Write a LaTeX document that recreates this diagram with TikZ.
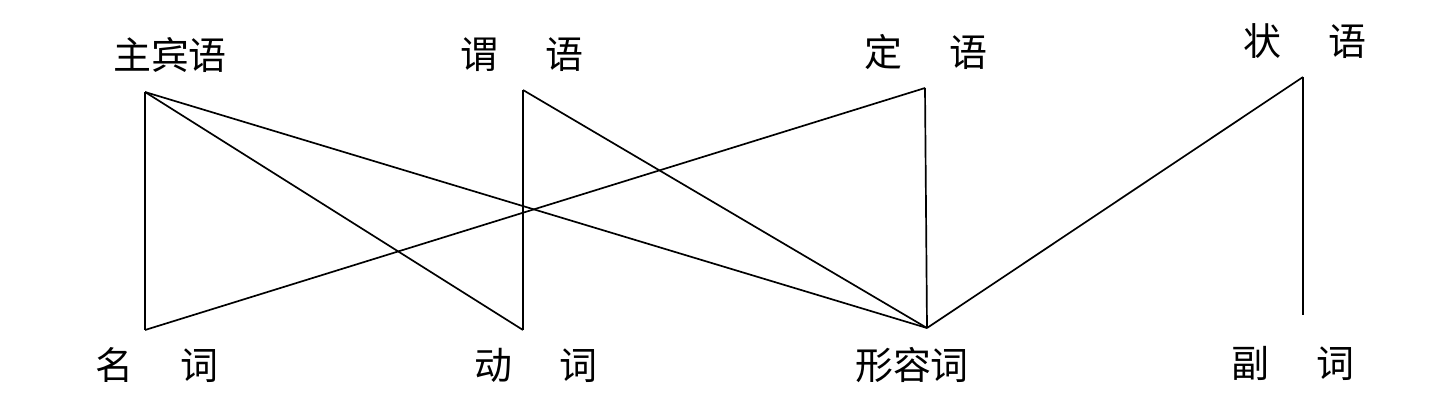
\documentclass[tikz,border=0pt]{standalone}
\usepackage{fontspec}
\newfontfamily\cjk{Noto Sans CJK SC}
\usepackage{tikz}
\usetikzlibrary{positioning, calc}

\newcommand{\wgap}{\hspace{1.25em}}

\begin{document}
\begin{tikzpicture}[
    lbl/.style={font=\cjk\fontsize{27pt}{32pt}\selectfont, inner sep=0pt},
    link/.style={line width=1.2pt, line join=miter}
]
\useasboundingbox (0,0) rectangle (36,10.175);

% sentence parts (top)
\node[lbl] (zhubin) at (4.25,8.8) {主宾语};
\node[lbl] (weiyu) at (13.05,8.8) {谓\wgap 语};
\node[lbl] (dingyu) at (23.15,8.875) {定\wgap 语};
\node[lbl] (zhuangyu) at (32.625,9.15) {状\wgap 语};

% word classes (bottom)
\node[lbl] (mingci) at (3.925,1.05) {名\wgap 词};
\node[lbl] (dongci) at (13.4,1.05) {动\wgap 词};
\node[lbl] (xingrong) at (22.8,1.05) {形容词};
\node[lbl] (fuci) at (32.325,1.1) {副\wgap 词};

% line ends
\coordinate (zb) at (3.625,7.875);
\coordinate (wy) at (13.075,7.925);
\coordinate (dy) at (23.125,7.975);
\coordinate (zy) at (32.575,8.25);
\coordinate (mc) at (3.625,1.925);
\coordinate (dc) at (13.075,1.925);
\coordinate (xr) at (23.175,1.975);
\coordinate (fc) at (32.575,2.3);

% links
\draw[link] (zb) -- (mc);
\draw[link] (zb) -- (dc);
\draw[link] (zb) -- (xr);
\draw[link] (wy) -- (dc);
\draw[link] (wy) -- (xr);
\draw[link] (dy) -- (mc);
\draw[link] (dy) -- (xr);
\draw[link] (zy) -- (xr);
\draw[link] (zy) -- (fc);
\end{tikzpicture}
\end{document}
